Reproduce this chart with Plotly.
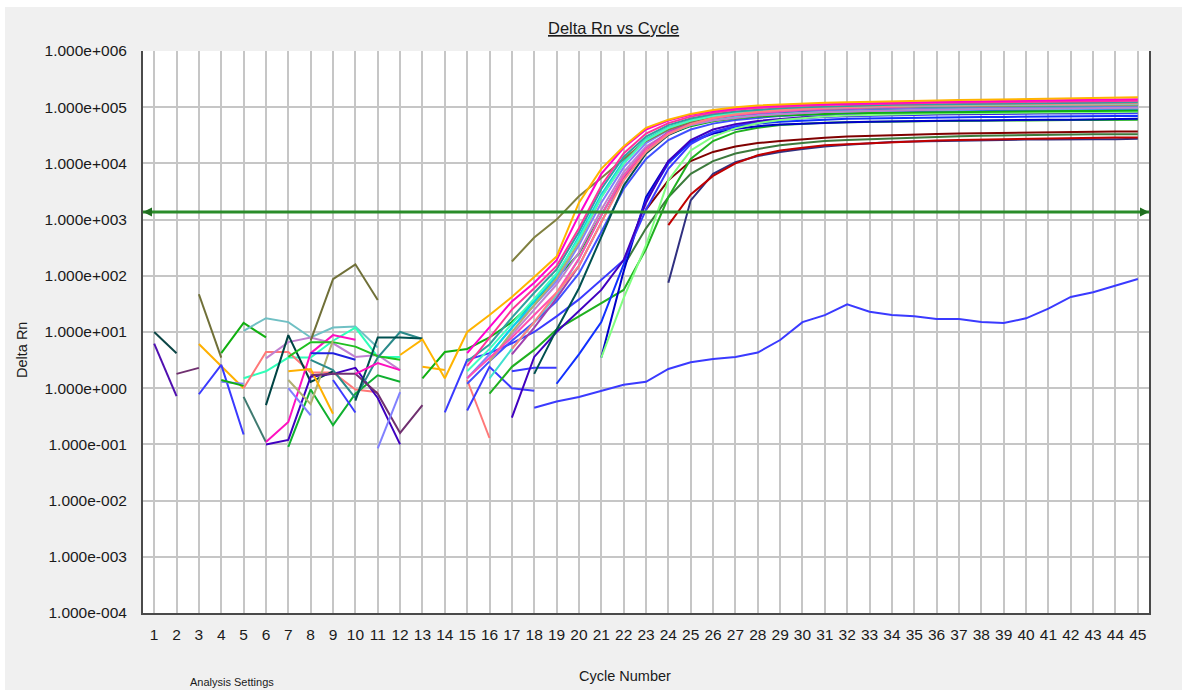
import math
import plotly.graph_objects as go

# ---------------- DATA ----------------
tick_cycles = list(range(1, 46))
y_tick_vals = [1e-4, 1e-3, 1e-2, 1e-1, 1e0, 1e1, 1e2, 1e3, 1e4, 1e5, 1e6]
y_tick_text = ["1.000e-004", "1.000e-003", "1.000e-002", "1.000e-001", "1.000e+000",
               "1.000e+001", "1.000e+002", "1.000e+003", "1.000e+004", "1.000e+005", "1.000e+006"]
threshold = 1365

# each series: (first cycle, Delta Rn values for consecutive cycles)
# --- baseline noise fragments (cycles 1-16)
noise_dark_teal_a = (1, [10, 4.2])
noise_indigo_a = (1, [6.2, 0.72])
noise_purple_a = (2, [1.8, 2.3])
noise_olive_a = (3, [47, 3.5])
noise_orange_a = (3, [6.1, 2.5, 1.0])
noise_blue_a = (3, [0.78, 2.6, 0.15])
noise_green_a = (4, [4.2, 14.5, 8])
noise_lightblue_a = (4, [1.3, 1.2])
noise_green_b = (4, [1.4, 1.1])
noise_slate_a = (5, [0.7, 0.11])
noise_paleteal_a = (5, [10.5, 17.6, 15, 8, 12, 12.5, 5.3])
noise_aqua_a = (5, [1.5, 2.0, 3.5, 3.5, 7, 12, 3.6, 3.6])
noise_salmon_a = (5, [1.0, 4.4, 4.4, 1.9, 1.9, 0.95, 0.85])
noise_lavender_a = (6, [3.4, 6.6, 8, 6.3, 3.6, 3.9, 2.1])
noise_dark_teal_b = (6, [0.5, 8.8, 1.3, 2.0])
noise_magenta_a = (6, [0.11, 0.25, 4.2, 8.8, 7.3])
noise_indigo_b = (6, [0.1, 0.12, 1.6, 1.8, 2.3, 0.67, 0.1])
noise_green_c = (7, [0.09, 0.95, 0.22, 0.8, 1.7, 1.3])
noise_green_d = (7, [3.6, 6.6, 6.6, 5.5, 3.7, 3.2])
noise_lightblue_b = (7, [1.0, 0.33])
noise_khaki_a = (7, [1.4, 0.52, 7.1])
noise_orange_b = (7, [2.0, 2.2, 0.35])
noise_blue_b = (8, [4.2, 4.2, 3.2])
noise_teal_a = (8, [3.2, 2.1, 0.67, 3.5, 10, 7.5])
noise_purple_b = (8, [1.7, 1.8, 1.8, 0.8, 0.16, 0.5])
noise_olive_b = (8, [7, 87, 160, 37])
noise_blue_c = (9, [1.4, 0.37])
noise_dark_teal_c = (10, [0.6, 8, 8, 7.7])
noise_magenta_b = (10, [1.8, 2.8, 2.1])
noise_lightblue_c = (11, [0.085, 0.85])
noise_orange_c = (13, [2.4, 2.1])
noise_salmon_b = (15, [1.4, 0.13])
noise_blue_d = (15, [0.4, 2.4, 1.0, 0.9])
noise_blue_e = (17, [2.0, 2.3, 2.3])

# --- no amplification (slow drifting well)
drift_blue = (18, [0.45, 0.58, 0.7, 0.9, 1.15, 1.3, 2.2, 2.9, 3.3, 3.6, 4.3, 7.2, 15, 20, 31,
                   23, 20, 19, 17, 17, 15, 14.5, 17.5, 26, 42, 51, 66, 88])

# --- low-plateau amplification curves
amp_darkred = (23, [1500, 5000, 1.1e4, 1.6e4, 2.0e4, 2.3e4, 2.5e4, 2.7e4, 2.85e4, 3.0e4, 3.1e4,
                    3.2e4, 3.3e4, 3.35e4, 3.4e4, 3.45e4, 3.5e4, 3.55e4, 3.6e4, 3.6e4, 3.65e4,
                    3.7e4, 3.7e4])
amp_darkgreen = (22, [150, 700, 2500, 6500, 1.1e4, 1.5e4, 1.8e4, 2.1e4, 2.3e4, 2.5e4, 2.6e4,
                      2.7e4, 2.8e4, 2.9e4, 3.0e4, 3.05e4, 3.1e4, 3.15e4, 3.2e4, 3.2e4, 3.25e4,
                      3.3e4, 3.3e4, 3.3e4])
amp_red = (24, [800, 2800, 6000, 1.0e4, 1.4e4, 1.7e4, 1.9e4, 2.1e4, 2.2e4, 2.3e4, 2.4e4, 2.5e4,
                2.55e4, 2.6e4, 2.65e4, 2.7e4, 2.75e4, 2.8e4, 2.8e4, 2.85e4, 2.9e4, 2.9e4])
amp_navy = (24, [75, 2200, 6500, 1.05e4, 1.35e4, 1.6e4, 1.8e4, 2.0e4, 2.15e4, 2.3e4, 2.4e4,
                 2.45e4, 2.5e4, 2.55e4, 2.6e4, 2.6e4, 2.65e4, 2.65e4, 2.7e4, 2.7e4, 2.7e4, 2.75e4])

# --- high-plateau amplification curves
amp_green_late = (16, [0.8, 2.4, 4.8, 11, 19, 33, 56, 300, 2500, 1.2e4, 2.5e4, 3.6e4, 4.3e4,
                       4.8e4, 5.1e4, 5.3e4, 5.4e4, 5.5e4, 5.6e4, 5.6e4, 5.7e4, 5.7e4, 5.8e4,
                       5.8e4, 5.8e4, 5.9e4, 5.9e4, 5.9e4, 6.0e4, 6.0e4])
amp_darkblue = (21, [3.5, 120, 2500, 1.1e4, 2.4e4, 3.4e4, 4.1e4, 4.6e4, 4.9e4, 5.1e4, 5.3e4,
                     5.4e4, 5.5e4, 5.6e4, 5.7e4, 5.7e4, 5.8e4, 5.8e4, 5.9e4, 5.9e4, 6.0e4,
                     6.0e4, 6.1e4, 6.1e4, 6.2e4])
amp_blue_b = (19, [1.2, 4, 15, 160, 2200, 1.0e4, 2.4e4, 3.6e4, 4.5e4, 5.1e4, 5.5e4, 5.8e4,
                   6.0e4, 6.2e4, 6.3e4, 6.4e4, 6.5e4, 6.6e4, 6.6e4, 6.7e4, 6.7e4, 6.8e4, 6.8e4,
                   6.9e4, 6.9e4, 7.0e4, 7.0e4])
amp_blue_late = (14, [0.37, 3.2, 4.2, 6.3, 10, 19, 38, 85, 190, 1500, 8000, 2.2e4, 3.6e4, 4.7e4,
                      5.5e4, 6.0e4, 6.4e4, 6.7e4, 6.9e4, 7.1e4, 7.2e4, 7.3e4, 7.4e4, 7.5e4,
                      7.5e4, 7.6e4, 7.6e4, 7.7e4, 7.7e4, 7.8e4, 7.8e4, 7.8e4])
amp_indigo = (17, [0.3, 3.6, 10, 24, 56, 190, 2000, 1.1e4, 2.6e4, 4.0e4, 5.0e4, 5.7e4, 6.2e4,
                   6.6e4, 6.9e4, 7.1e4, 7.3e4, 7.4e4, 7.5e4, 7.6e4, 7.7e4, 7.8e4, 7.9e4, 7.9e4,
                   8.0e4, 8.0e4, 8.1e4, 8.1e4, 8.2e4])
amp_lightgreen = (21, [3.5, 40, 350, 5000, 1.7e4, 3.0e4, 4.2e4, 5.2e4, 5.9e4, 6.4e4, 6.8e4,
                       7.1e4, 7.3e4, 7.5e4, 7.6e4, 7.7e4, 7.8e4, 7.9e4, 8.0e4, 8.0e4, 8.1e4,
                       8.1e4, 8.2e4, 8.2e4, 8.3e4])
amp_medblue = (15, [1.2, 3, 7, 15, 35, 110, 600, 3500, 1.2e4, 2.6e4, 4.0e4, 5.1e4, 5.9e4, 6.5e4,
                    7.0e4, 7.3e4, 7.6e4, 7.8e4, 8.0e4, 8.2e4, 8.3e4, 8.4e4, 8.5e4, 8.6e4, 8.7e4,
                    8.7e4, 8.8e4, 8.8e4, 8.9e4, 8.9e4, 9.0e4])
amp_green_early = (13, [1.5, 4.4, 5, 8, 15, 35, 90, 250, 1200, 6000, 1.8e4, 3.3e4, 4.6e4, 5.6e4,
                        6.3e4, 6.8e4, 7.1e4, 7.4e4, 7.6e4, 7.8e4, 7.9e4, 8.0e4, 8.1e4, 8.2e4,
                        8.3e4, 8.4e4, 8.4e4, 8.5e4, 8.5e4, 8.6e4, 8.6e4, 8.7e4, 8.7e4])
amp_dark_teal = (18, [1.8, 11, 60, 500, 4000, 1.5e4, 3.2e4, 4.8e4, 6.0e4, 6.9e4, 7.5e4, 8.0e4,
                      8.3e4, 8.6e4, 8.8e4, 9.0e4, 9.1e4, 9.2e4, 9.3e4, 9.4e4, 9.5e4, 9.5e4,
                      9.6e4, 9.6e4, 9.7e4, 9.7e4, 9.8e4, 9.8e4])
amp_turquoise = (16, [1.5, 5, 15, 45, 200, 1200, 6000, 1.8e4, 3.4e4, 4.8e4, 5.9e4, 6.7e4, 7.3e4,
                      7.7e4, 8.0e4, 8.3e4, 8.5e4, 8.7e4, 8.8e4, 9.0e4, 9.1e4, 9.2e4, 9.3e4,
                      9.3e4, 9.4e4, 9.4e4, 9.5e4, 9.5e4, 9.6e4, 9.6e4])
amp_lavender = (16, [3, 9, 25, 70, 260, 1500, 7000, 2.0e4, 3.5e4, 4.8e4, 5.8e4, 6.5e4, 7.1e4,
                     7.5e4, 7.9e4, 8.2e4, 8.4e4, 8.6e4, 8.8e4, 9.0e4, 9.1e4, 9.2e4, 9.3e4,
                     9.4e4, 9.5e4, 9.6e4, 9.6e4, 9.7e4, 9.7e4, 9.8e4])
amp_lightblue = (15, [1.5, 4, 12, 30, 80, 350, 2000, 8500, 2.3e4, 3.9e4, 5.3e4, 6.4e4, 7.2e4,
                      7.8e4, 8.3e4, 8.7e4, 9.0e4, 9.2e4, 9.4e4, 9.6e4, 9.8e4, 9.9e4, 1.0e5,
                      1.01e5, 1.02e5, 1.03e5, 1.04e5, 1.04e5, 1.05e5, 1.05e5, 1.06e5])
amp_purple = (17, [4, 12, 40, 150, 900, 5500, 1.8e4, 3.6e4, 5.2e4, 6.4e4, 7.3e4, 8.0e4, 8.5e4,
                   8.9e4, 9.2e4, 9.5e4, 9.7e4, 9.9e4, 1.0e5, 1.01e5, 1.02e5, 1.03e5, 1.04e5,
                   1.05e5, 1.05e5, 1.06e5, 1.06e5, 1.07e5, 1.07e5])
amp_cyan = (16, [4, 12, 35, 100, 500, 2800, 1.1e4, 2.7e4, 4.4e4, 5.8e4, 6.9e4, 7.7e4, 8.3e4,
                 8.8e4, 9.2e4, 9.5e4, 9.7e4, 9.9e4, 1.01e5, 1.02e5, 1.03e5, 1.04e5, 1.05e5,
                 1.05e5, 1.06e5, 1.06e5, 1.07e5, 1.07e5, 1.08e5, 1.08e5])
amp_olive = (17, [180, 480, 1000, 2600, 5500, 1.2e4, 2.5e4, 4.0e4, 5.5e4, 6.7e4, 7.6e4, 8.3e4,
                  8.8e4, 9.2e4, 9.5e4, 9.8e4, 1.0e5, 1.02e5, 1.03e5, 1.04e5, 1.05e5, 1.06e5,
                  1.07e5, 1.08e5, 1.08e5, 1.09e5, 1.1e5, 1.1e5, 1.11e5])
amp_khaki = (16, [3, 10, 30, 90, 400, 2500, 1.0e4, 2.6e4, 4.3e4, 5.8e4, 7.0e4, 7.9e4, 8.6e4,
                  9.1e4, 9.5e4, 9.8e4, 1.0e5, 1.02e5, 1.04e5, 1.05e5, 1.06e5, 1.07e5, 1.08e5,
                  1.09e5, 1.1e5, 1.1e5, 1.11e5, 1.11e5, 1.12e5, 1.12e5])
amp_hotpink = (15, [1.5, 3.5, 8, 20, 50, 200, 1200, 6000, 1.8e4, 3.5e4, 5.0e4, 6.3e4, 7.3e4,
                    8.0e4, 8.6e4, 9.0e4, 9.4e4, 9.7e4, 1.0e5, 1.02e5, 1.04e5, 1.06e5, 1.07e5,
                    1.08e5, 1.09e5, 1.1e5, 1.11e5, 1.12e5, 1.12e5, 1.13e5, 1.14e5])
amp_aqua = (15, [2, 5, 14, 40, 110, 450, 2500, 1.0e4, 2.6e4, 4.3e4, 5.8e4, 7.0e4, 7.9e4, 8.6e4,
                 9.1e4, 9.5e4, 9.8e4, 1.01e5, 1.03e5, 1.05e5, 1.07e5, 1.08e5, 1.09e5, 1.1e5,
                 1.11e5, 1.12e5, 1.13e5, 1.13e5, 1.14e5, 1.15e5, 1.15e5])
amp_salmon = (17, [5, 15, 50, 150, 900, 5000, 1.6e4, 3.3e4, 5.0e4, 6.4e4, 7.5e4, 8.3e4, 8.9e4,
                   9.4e4, 9.8e4, 1.01e5, 1.04e5, 1.06e5, 1.08e5, 1.1e5, 1.11e5, 1.12e5, 1.13e5,
                   1.14e5, 1.15e5, 1.16e5, 1.17e5, 1.18e5, 1.18e5])
amp_teal = (15, [3, 6, 18, 50, 130, 600, 3500, 1.3e4, 3.0e4, 4.8e4, 6.3e4, 7.5e4, 8.4e4, 9.1e4,
                 9.6e4, 1.0e5, 1.03e5, 1.06e5, 1.08e5, 1.1e5, 1.12e5, 1.13e5, 1.15e5, 1.16e5,
                 1.17e5, 1.18e5, 1.19e5, 1.2e5, 1.2e5, 1.21e5, 1.22e5])
amp_pink = (15, [2.5, 8, 25, 60, 150, 700, 4000, 1.5e4, 3.4e4, 5.2e4, 6.8e4, 8.0e4, 9.0e4, 9.7e4,
                 1.02e5, 1.06e5, 1.09e5, 1.12e5, 1.14e5, 1.16e5, 1.18e5, 1.2e5, 1.21e5, 1.23e5,
                 1.24e5, 1.25e5, 1.26e5, 1.27e5, 1.28e5, 1.29e5, 1.3e5])
amp_magenta = (15, [4.2, 12, 35, 75, 190, 1200, 6500, 1.9e4, 4.0e4, 5.8e4, 7.3e4, 8.5e4, 9.5e4,
                    1.02e5, 1.07e5, 1.1e5, 1.13e5, 1.16e5, 1.18e5, 1.2e5, 1.22e5, 1.24e5, 1.26e5,
                    1.28e5, 1.3e5, 1.31e5, 1.33e5, 1.34e5, 1.36e5, 1.37e5, 1.38e5])
amp_orange = (12, [3.9, 7.4, 1.5, 10, 20, 42, 95, 220, 2000, 8000, 2.0e4, 4.3e4, 6.0e4, 7.6e4,
                   8.9e4, 1.0e5, 1.07e5, 1.12e5, 1.16e5, 1.2e5, 1.23e5, 1.26e5, 1.28e5, 1.3e5,
                   1.32e5, 1.34e5, 1.36e5, 1.38e5, 1.4e5, 1.42e5, 1.44e5, 1.46e5, 1.48e5, 1.5e5])

# ---------------- STYLE (drawing order: first is drawn underneath) ----------------
series_styles = [
    (noise_dark_teal_a, "#0B4545"), (noise_indigo_a, "#5010B0"), (noise_purple_a, "#703070"),
    (noise_olive_a, "#707038"), (noise_orange_a, "#FFB000"), (noise_blue_a, "#3A3AFF"),
    (noise_green_a, "#10B010"), (noise_lightblue_a, "#8080FF"), (noise_green_b, "#10B010"),
    (noise_slate_a, "#3F7A70"), (noise_paleteal_a, "#70C0C4"), (noise_aqua_a, "#30FFB8"),
    (noise_salmon_a, "#FF7878"), (noise_lavender_a, "#C080D0"), (noise_dark_teal_b, "#004444"),
    (noise_magenta_a, "#FF10C0"), (noise_indigo_b, "#4000C0"), (noise_green_c, "#10B030"),
    (noise_green_d, "#20C020"), (noise_lightblue_b, "#8080FF"), (noise_khaki_a, "#B0B070"),
    (noise_orange_b, "#FFB000"), (noise_blue_b, "#2020E0"), (noise_teal_a, "#2A8A8A"),
    (noise_purple_b, "#703070"), (noise_olive_b, "#707038"), (noise_blue_c, "#3A3AFF"),
    (noise_dark_teal_c, "#005050"), (noise_magenta_b, "#FF10C0"), (noise_lightblue_c, "#8080FF"),
    (noise_orange_c, "#FFB000"), (noise_salmon_b, "#FF7878"), (noise_blue_d, "#3A3AFF"),
    (noise_blue_e, "#3A3AFF"),
    (drift_blue, "#3A3AFF"),
    (amp_navy, "#303080"), (amp_red, "#C00000"), (amp_darkgreen, "#3C7A3C"),
    (amp_darkred, "#800000"),
    (amp_green_late, "#20B020"), (amp_darkblue, "#0000C8"), (amp_blue_b, "#1030FF"),
    (amp_blue_late, "#3A3AFF"), (amp_indigo, "#4000C0"), (amp_lightgreen, "#80FF80"),
    (amp_medblue, "#4050FF"), (amp_green_early, "#10B010"), (amp_dark_teal, "#005050"),
    (amp_turquoise, "#40E0D0"), (amp_lavender, "#C080D0"), (amp_lightblue, "#8080FF"),
    (amp_purple, "#A040B0"), (amp_cyan, "#00D8E8"), (amp_olive, "#808040"),
    (amp_khaki, "#B0B070"), (amp_hotpink, "#FF50B0"), (amp_aqua, "#40FFC0"),
    (amp_salmon, "#FF8080"), (amp_teal, "#30A0A0"), (amp_pink, "#FF3399"),
    (amp_magenta, "#FF00D0"), (amp_orange, "#FFB400"),
]

fig = go.Figure()
for (start, vals), color in series_styles:
    xs = [start + i for i in range(len(vals))]
    pts = [(x, v) for x, v in zip(xs, vals) if x <= 45]
    fig.add_trace(go.Scatter(
        x=[p[0] for p in pts], y=[p[1] for p in pts], mode="lines",
        line=dict(color=color, width=2), showlegend=False, hoverinfo="skip"))

L, R, T, B = 143, 33, 51, 77
W, H = 1182, 690
pw, ph = W - L - R, H - T - B


def px_x(p):
    return (p - L) / pw


def px_y(p):
    return (H - B - p) / ph


font_family = "Liberation Sans, Arial, sans-serif"
text_color = "#1A1A1A"

fig.update_layout(
    width=W, height=H,
    margin=dict(l=L, r=R, t=T, b=B, pad=0),
    paper_bgcolor="#F0F0F0", plot_bgcolor="#FFFFFF",
    font=dict(family=font_family, size=15, color=text_color),
    showlegend=False,
    xaxis=dict(range=[0.5, 45.5], tickmode="array", tickvals=tick_cycles,
               ticktext=[str(c) for c in tick_cycles],
               showgrid=True, gridcolor="#C6C6C6", gridwidth=2, zeroline=False,
               showline=True, linecolor="#4A4A4A", linewidth=2, mirror=False,
               ticks="outside", ticklen=6, tickcolor="rgba(0,0,0,0)",
               tickfont=dict(size=15.5, color=text_color)),
    yaxis=dict(type="log", range=[-4, 6], tickmode="array", tickvals=y_tick_vals,
               ticktext=y_tick_text,
               showgrid=True, gridcolor="#C6C6C6", gridwidth=2, zeroline=False,
               showline=True, linecolor="#4A4A4A", linewidth=2, mirror=True,
               ticks="outside", ticklen=11, tickcolor="rgba(0,0,0,0)",
               tickfont=dict(size=15.5, color=text_color)),
)

# threshold line with small arrowheads at both ends
fig.add_shape(type="line", xref="paper", yref="y", x0=0, x1=1,
              y0=threshold, y1=threshold, line=dict(color="#2A8C2A", width=3), layer="above")
ty = math.log10(threshold)
for xp, axo in [(1, -9), (0, 9)]:
    fig.add_annotation(x=xp, y=ty, xref="paper", yref="y", ax=axo, ay=0, text="",
                       showarrow=True, arrowhead=2, arrowsize=0.9, arrowwidth=2,
                       arrowcolor="#1F6E1F")

# white frame strips at top and left edge of the window
fig.add_shape(type="rect", xref="paper", yref="paper", x0=px_x(0), x1=px_x(W),
              y0=px_y(7), y1=px_y(0), fillcolor="#FFFFFF", line=dict(width=0), layer="below")
fig.add_shape(type="rect", xref="paper", yref="paper", x0=px_x(0), x1=px_x(5),
              y0=px_y(H), y1=px_y(0), fillcolor="#FFFFFF", line=dict(width=0), layer="below")

# texts
fig.add_annotation(text="<u>Delta Rn vs Cycle</u>", xref="paper", yref="paper",
                   x=px_x(613), y=px_y(28), xanchor="center", yanchor="middle",
                   showarrow=False, font=dict(size=16.5, color=text_color))
fig.add_annotation(text="Delta Rn", xref="paper", yref="paper", x=px_x(22), y=px_y(350),
                   xanchor="center", yanchor="middle",
                   textangle=-90, showarrow=False, font=dict(size=14.5, color=text_color))
fig.add_annotation(text="Cycle Number", xref="paper", yref="paper", x=px_x(625), y=px_y(676),
                   xanchor="center", yanchor="middle",
                   showarrow=False, font=dict(size=14.5, color=text_color))
fig.add_annotation(text="Analysis Settings", xref="paper", yref="paper", x=px_x(232),
                   y=px_y(682), xanchor="center", yanchor="middle",
                   showarrow=False, font=dict(size=11, color=text_color))

fig.write_html("out.html",
               config={"displayModeBar": False},
               post_script="document.body.style.margin='0px';"
                           "document.body.style.overflow='hidden';")
